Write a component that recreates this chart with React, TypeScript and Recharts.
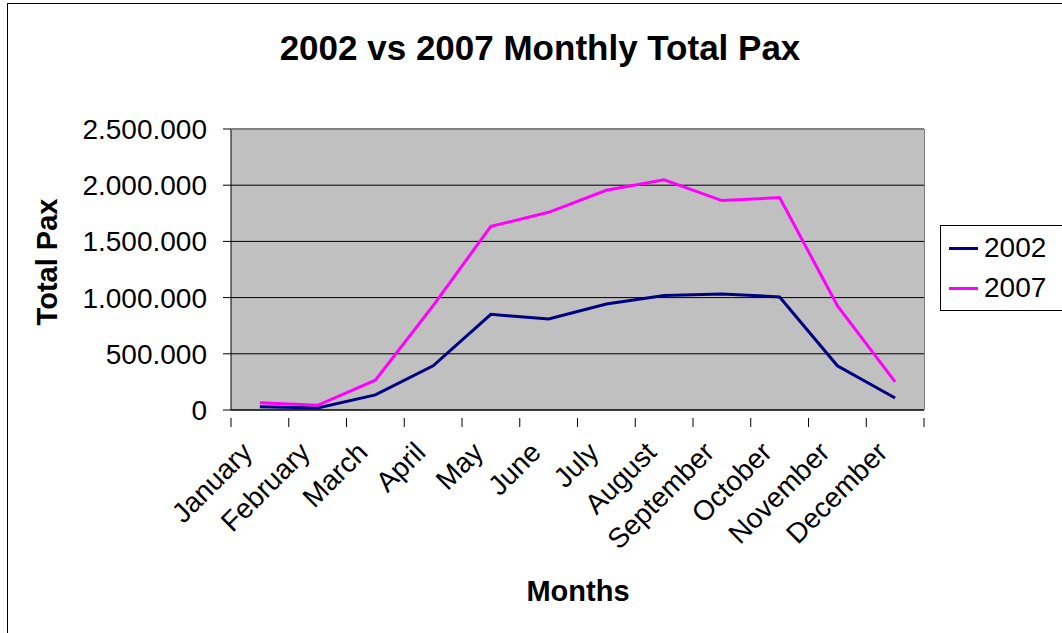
import { LineChart, Line, XAxis, YAxis, CartesianGrid } from 'recharts';

const months = [
  'January', 'February', 'March', 'April', 'May', 'June',
  'July', 'August', 'September', 'October', 'November', 'December',
];
const pax2002 = [30000, 18000, 134000, 393000, 851000, 809000, 943000, 1018000, 1033000, 1006000, 393000, 107000];
const pax2007 = [65000, 42000, 265000, 929000, 1634000, 1759000, 1955000, 2048000, 1863000, 1890000, 929000, 250000];
const yTicks = [0, 500000, 1000000, 1500000, 2000000, 2500000];
const seriesNames = ['2002', '2007'];
const seriesColors = ['#000080', '#FF00FF'];

const FONT = '"Liberation Sans", Arial, sans-serif';
const PLOT = { left: 231, top: 129, right: 924, bottom: 410 };
const BAND = (PLOT.right - PLOT.left) / 12;

const data = months.map((m, i) => ({ month: m, '2002': pax2002[i], '2007': pax2007[i] }));

const fmt = (v: number) => String(v).replace(/\B(?=(\d{3})+(?!\d))/g, '.');

function MonthTick(props: any) {
  const { x, y, payload, index } = props;
  const left = x - BAND / 2;
  const ax = x - 6;
  const ay = y + 36;
  return (
    <g>
      <line x1={left} y1={y} x2={left} y2={y + 9} stroke="#000" />
      {index === months.length - 1 && (
        <line x1={x + BAND / 2} y1={y} x2={x + BAND / 2} y2={y + 9} stroke="#000" />
      )}
      <text
        x={ax}
        y={ay}
        textAnchor="end"
        fontSize={28}
        fontFamily={FONT}
        fill="#000"
        transform={`rotate(-45 ${ax} ${ay})`}
      >
        {payload.value}
      </text>
    </g>
  );
}

export default function App() {
  return (
    <div style={{ position: 'absolute', left: 0, top: 0, width: 1062, height: 633, background: '#fff', overflow: 'hidden' }}>
      <div
        style={{
          position: 'absolute', left: 7, top: 3, width: 1100, height: 700,
          border: '1px solid #000', boxSizing: 'border-box',
        }}
      />
      <div
        style={{
          position: 'absolute', left: 0, top: 47, width: 1080, textAlign: 'center',
          transform: 'translateY(-50%)', lineHeight: 1,
          fontSize: 35, fontWeight: 'bold', fontFamily: FONT, color: '#000',
        }}
      >
        2002 vs 2007 Monthly Total Pax
      </div>
      <div
        style={{
          position: 'absolute', left: 47, top: 262, transform: 'translate(-50%, -50%) rotate(-90deg)',
          fontSize: 29, fontWeight: 'bold', fontFamily: FONT, color: '#000', whiteSpace: 'nowrap', lineHeight: 1,
        }}
      >
        Total Pax
      </div>
      <div
        style={{
          position: 'absolute', left: 578, top: 591, transform: 'translate(-50%, -50%)',
          fontSize: 29, fontWeight: 'bold', fontFamily: FONT, color: '#000', whiteSpace: 'nowrap', lineHeight: 1,
        }}
      >
        Months
      </div>
      <div style={{ position: 'absolute', left: 0, top: 0 }}>
        <LineChart
          width={1062}
          height={633}
          data={data}
          margin={{ top: PLOT.top, right: 1062 - PLOT.right, bottom: 0, left: 0 }}
        >
          <CartesianGrid fill="#C0C0C0" stroke="#000" vertical={false} />
          <XAxis
            dataKey="month"
            height={633 - PLOT.bottom}
            interval={0}
            padding={{ left: BAND / 2, right: BAND / 2 }}
            axisLine={{ stroke: '#000' }}
            tickLine={false}
            tick={<MonthTick />}
          />
          <YAxis
            width={PLOT.left}
            domain={[0, 2500000]}
            ticks={yTicks}
            interval={0}
            tickFormatter={fmt}
            axisLine={{ stroke: '#000' }}
            tickLine={{ stroke: '#000' }}
            tickSize={8}
            tickMargin={16}
            tick={{ fontSize: 28, fontFamily: FONT, fill: '#000' }}
          />
          {seriesNames.map((name, i) => (
            <Line
              key={name}
              dataKey={name}
              stroke={seriesColors[i]}
              strokeWidth={3}
              dot={false}
              isAnimationActive={false}
            />
          ))}
        </LineChart>
      </div>
      {/* grey frame on the top and right of the plot area */}
      <div
        style={{
          position: 'absolute', left: PLOT.left, top: PLOT.top,
          width: PLOT.right - PLOT.left + 1, height: PLOT.bottom - PLOT.top,
          borderTop: '1px solid #808080', borderRight: '1px solid #808080',
          boxSizing: 'border-box', pointerEvents: 'none',
        }}
      />
      <div
        style={{
          position: 'absolute', left: 940, top: 225, width: 140, height: 86,
          border: '1px solid #000', boxSizing: 'border-box', background: '#fff',
          padding: '2px 0 0 8px',
        }}
      >
        {seriesNames.map((name, i) => (
          <div key={name} style={{ display: 'flex', alignItems: 'center', height: 40 }}>
            <span style={{ width: 29, height: 3, background: seriesColors[i], marginRight: 6 }} />
            <span style={{ fontSize: 28, fontFamily: FONT, color: '#000', lineHeight: 1 }}>{name}</span>
          </div>
        ))}
      </div>
    </div>
  );
}
